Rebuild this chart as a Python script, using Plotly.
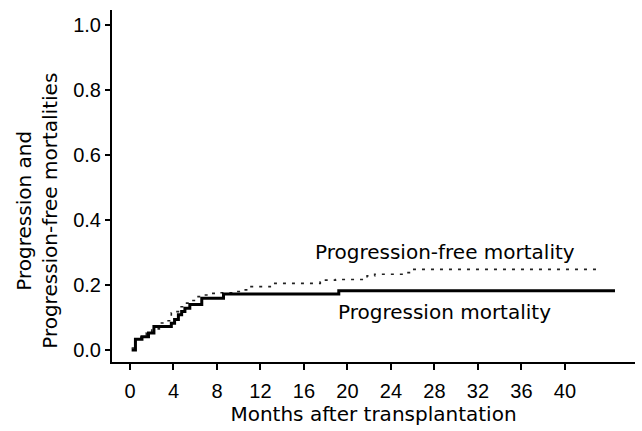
import plotly.graph_objects as go

# Cumulative incidence step curves (months after transplantation)
prog_months = [0.15, 0.5, 1.1, 1.7, 2.2, 3.8, 4.1, 4.45, 4.75, 5.05, 5.5, 6.6, 8.6, 19.2, 44.6]
prog_values = [0.0, 0.033, 0.041, 0.052, 0.072, 0.082, 0.094, 0.108, 0.118, 0.128, 0.14, 0.159, 0.172, 0.182, 0.182]

pfree_months = [0.15, 0.5, 1.0, 1.5, 2.0, 2.7, 3.2, 3.8, 4.1, 4.7, 5.0, 5.5, 6.1, 6.6, 7.5, 8.1,
                9.5, 10.3, 11.0, 12.9, 17.5, 17.9, 18.9, 21.8, 22.5, 25.1, 26.0, 43.3]
pfree_values = [0.006, 0.03, 0.04, 0.052, 0.065, 0.083, 0.09, 0.114, 0.118, 0.133, 0.144, 0.152,
                0.164, 0.169, 0.174, 0.176, 0.18, 0.185, 0.195, 0.205, 0.21, 0.215, 0.217, 0.228,
                0.233, 0.238, 0.248, 0.248]

x_ticks = [0, 4, 8, 12, 16, 20, 24, 28, 32, 36, 40]
y_ticks = [0.0, 0.2, 0.4, 0.6, 0.8, 1.0]
y_tick_labels = ["0.0", "0.2", "0.4", "0.6", "0.8", "1.0"]

TEXT_FONT = "DejaVu Sans, Verdana, sans-serif"
TICK_FONT = "Liberation Sans, Arial, Helvetica, sans-serif"

fig = go.Figure()
fig.add_trace(go.Scatter(
    x=pfree_months, y=pfree_values, mode="lines", line_shape="hv",
    line=dict(color="#222222", width=1.6, dash="3px,6px"), showlegend=False,
))
fig.add_trace(go.Scatter(
    x=prog_months, y=prog_values, mode="lines", line_shape="hv",
    line=dict(color="black", width=3), showlegend=False,
))

fig.add_annotation(x=28.97, y=0.302, text="Progression-free mortality", showarrow=False,
                   xanchor="center", yanchor="middle",
                   font=dict(size=20, color="black", family=TEXT_FONT))
fig.add_annotation(x=28.9, y=0.117, text="Progression mortality", showarrow=False,
                   xanchor="center", yanchor="middle",
                   font=dict(size=20, color="black", family=TEXT_FONT))
fig.add_annotation(x=-0.145, y=0.43, xref="paper", yref="paper",
                   text="Progression and<br>Progression-free mortalities", showarrow=False,
                   textangle=-90, xanchor="center", yanchor="middle",
                   font=dict(size=20, color="black", family=TEXT_FONT))

fig.update_layout(
    width=642, height=431,
    margin=dict(l=112, r=7, t=10, b=69),
    paper_bgcolor="white", plot_bgcolor="white",
    font=dict(family=TICK_FONT, size=20, color="black"),
    xaxis=dict(
        range=[-1.655, 46.44], tickmode="array", tickvals=x_ticks,
        ticks="outside", ticklen=6, tickwidth=2, tickcolor="black",
        ticklabelstandoff=4,
        showline=True, linecolor="black", linewidth=2, showgrid=False, zeroline=False,
        title=dict(text="Months after transplantation", standoff=4,
                   font=dict(size=20, family=TEXT_FONT)),
        tickfont=dict(size=20, family=TICK_FONT),
    ),
    yaxis=dict(
        range=[-0.037, 1.046], tickmode="array", tickvals=y_ticks, ticktext=y_tick_labels,
        ticks="outside", ticklen=5, tickwidth=2, tickcolor="black",
        showline=True, linecolor="black", linewidth=2, showgrid=False, zeroline=False,
        tickfont=dict(size=20, family=TICK_FONT),
    ),
)

fig.write_html("out.html")
